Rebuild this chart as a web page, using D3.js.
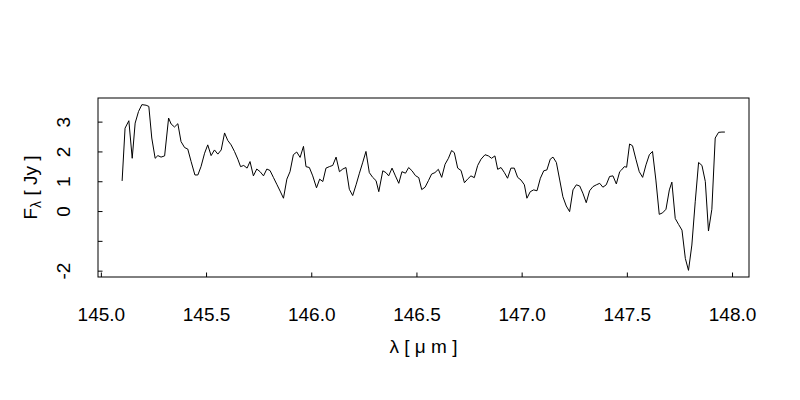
<!DOCTYPE html>
<html>
<head>
<meta charset="utf-8">
<script src="https://cdn.jsdelivr.net/npm/d3@7"></script>
<style>
  body { margin: 0; background: #fff; }
  text { font-family: "Liberation Sans", Arial, Helvetica, sans-serif; fill: #000; }
</style>
</head>
<body>
<svg id="chart" width="800" height="400"></svg>
<script>
// wavelength in micron, flux in Jy
const wavelength = [
  145.101, 145.115, 145.133, 145.149, 145.163, 145.179, 145.195, 145.215, 145.228, 145.242,
  145.258, 145.271, 145.286, 145.303, 145.322, 145.334, 145.350, 145.366, 145.381, 145.398,
  145.413, 145.429, 145.447, 145.461, 145.476, 145.493, 145.508, 145.524, 145.540, 145.556,
  145.572, 145.588, 145.603, 145.619, 145.635, 145.651, 145.664, 145.679, 145.695, 145.709,
  145.725, 145.741, 145.757, 145.773, 145.789, 145.804, 145.820, 145.836, 145.852, 145.868,
  145.884, 145.899, 145.915, 145.931, 145.947, 145.963, 145.975, 145.991, 146.007, 146.025,
  146.040, 146.055, 146.070, 146.086, 146.102, 146.118, 146.134, 146.150, 146.165, 146.181,
  146.197, 146.213, 146.229, 146.245, 146.260, 146.276, 146.292, 146.308, 146.321, 146.340,
  146.355, 146.368, 146.384, 146.400, 146.416, 146.431, 146.448, 146.463, 146.479, 146.495,
  146.511, 146.525, 146.541, 146.557, 146.572, 146.588, 146.604, 146.620, 146.636, 146.652,
  146.667, 146.680, 146.696, 146.712, 146.728, 146.743, 146.759, 146.775, 146.791, 146.807,
  146.826, 146.842, 146.857, 146.873, 146.886, 146.902, 146.918, 146.933, 146.949, 146.965,
  146.981, 146.997, 147.013, 147.025, 147.041, 147.057, 147.073, 147.089, 147.105, 147.120,
  147.136, 147.149, 147.165, 147.181, 147.196, 147.212, 147.228, 147.244, 147.260, 147.276,
  147.291, 147.307, 147.323, 147.339, 147.355, 147.371, 147.386, 147.402, 147.418, 147.434,
  147.450, 147.466, 147.475, 147.488, 147.499, 147.513, 147.527, 147.543, 147.559, 147.575,
  147.591, 147.607, 147.622, 147.638, 147.654, 147.670, 147.686, 147.702, 147.714, 147.730,
  147.746, 147.762, 147.778, 147.793, 147.809, 147.825, 147.841, 147.857, 147.873, 147.888,
  147.904, 147.920, 147.936, 147.952, 147.966
];

const flux = [
  1.01, 2.78, 3.03, 1.77, 2.95, 3.34, 3.57, 3.55, 3.51, 2.45,
  1.77, 1.86, 1.81, 1.85, 3.12, 2.92, 2.82, 2.93, 2.33, 2.13,
  2.08, 1.66, 1.21, 1.21, 1.49, 1.94, 2.22, 1.86, 2.05, 1.91,
  2.05, 2.62, 2.37, 2.22, 2.00, 1.74, 1.49, 1.53, 1.44, 1.66,
  1.18, 1.41, 1.32, 1.18, 1.41, 1.36, 1.13, 0.90, 0.67, 0.43,
  1.07, 1.32, 1.89, 1.98, 1.80, 2.17, 1.49, 1.46, 1.18, 0.78,
  1.07, 0.99, 1.44, 1.49, 1.53, 1.81, 1.32, 1.41, 1.46, 0.73,
  0.52, 0.88, 1.27, 1.64, 2.00, 1.29, 1.13, 1.02, 0.65, 1.35,
  1.29, 1.18, 1.44, 1.18, 0.93, 1.32, 1.27, 1.46, 1.35, 1.19,
  1.12, 0.72, 0.80, 1.02, 1.24, 1.29, 1.40, 1.13, 1.57, 1.77,
  2.03, 1.96, 1.44, 1.36, 0.95, 1.07, 1.18, 1.12, 1.53, 1.74,
  1.89, 1.85, 1.77, 1.85, 1.40, 1.46, 1.29, 1.10, 1.44, 1.44,
  1.13, 1.04, 0.88, 0.43, 0.65, 0.71, 0.68, 1.10, 1.35, 1.38,
  1.74, 1.81, 1.63, 1.04, 0.48, 0.17, -0.02, 0.71, 0.88, 0.84,
  0.60, 0.28, 0.68, 0.82, 0.88, 0.93, 0.80, 0.88, 1.16, 1.18,
  0.91, 1.32, 1.38, 1.49, 1.47, 2.25, 2.19, 1.74, 1.32, 1.13,
  1.55, 1.89, 2.00, 1.04, -0.11, -0.06, 0.06, 0.71, 0.97, -0.25,
  -0.45, -0.64, -1.59, -1.99, -1.14, 0.31, 1.63, 1.53, 0.99, -0.67,
  0.06, 2.45, 2.64, 2.65, 2.65
];

const xTicks = [145.0, 145.5, 146.0, 146.5, 147.0, 147.5, 148.0];
const yTicks = [-2, -1, 0, 1, 2, 3];
const yTickLabels = ["-2", "", "0", "1", "2", "3"];

const box = { left: 98, right: 749, top: 98, bottom: 277 };
const svg = d3.select("#chart");

// R style: pad the data range by 4% on each side
function padded(ext) {
  const d = (ext[1] - ext[0]) * 0.04;
  return [ext[0] - d, ext[1] + d];
}

const xScale = d3.scaleLinear()
  .domain(padded(d3.extent(wavelength)))
  .range([box.left, box.right]);

const yScale = d3.scaleLinear()
  .domain(padded(d3.extent(flux)))
  .range([box.bottom, box.top]);

const points = wavelength.map((w, i) => [w, flux[i]]);

svg.append("path")
  .datum(points)
  .attr("fill", "none")
  .attr("stroke", "#000")
  .attr("stroke-width", 1)
  .attr("d", d3.line().x(d => xScale(d[0])).y(d => yScale(d[1])));

// x axis, ticks pointing inwards
const xAxis = svg.append("g")
  .attr("transform", "translate(0," + box.bottom + ")")
  .call(d3.axisBottom(xScale).tickValues(xTicks).tickSize(-4.5).tickFormat(d3.format(".1f")));
xAxis.select(".domain").remove();
xAxis.selectAll("line").attr("stroke", "#000");
xAxis.selectAll("text")
  .attr("y", 44)
  .attr("dy", null)
  .style("font-size", "19px");

// y axis, labels rotated like R's default
const yAxis = svg.append("g")
  .attr("transform", "translate(" + box.left + ",0)")
  .call(d3.axisLeft(yScale).tickValues(yTicks).tickSize(-4.5)
    .tickFormat((d, i) => yTickLabels[i]));
yAxis.select(".domain").remove();
yAxis.selectAll("line").attr("stroke", "#000");
yAxis.selectAll("text")
  .attr("x", null)
  .attr("dy", null)
  .attr("text-anchor", "middle")
  .attr("transform", "translate(-34,0) rotate(-90) translate(0,6)")
  .style("font-size", "19px");

svg.append("rect")
  .attr("x", box.left)
  .attr("y", box.top)
  .attr("width", box.right - box.left)
  .attr("height", box.bottom - box.top)
  .attr("fill", "none")
  .attr("stroke", "#000")
  .attr("stroke-width", 1);

// axis titles
svg.append("text")
  .attr("x", (box.left + box.right) / 2)
  .attr("y", 353)
  .attr("text-anchor", "middle")
  .style("font-size", "19px")
  .text("λ [ μ m ]");

const ylab = svg.append("text")
  .attr("transform", "translate(37," + (box.top + box.bottom) / 2 + ") rotate(-90)")
  .attr("text-anchor", "middle")
  .style("font-size", "19px");
ylab.append("tspan").text("F");
ylab.append("tspan").attr("dy", 4).style("font-size", "14px").text("λ");
ylab.append("tspan").attr("dy", -4).text(" [ Jy ]");
</script>
</body>
</html>
